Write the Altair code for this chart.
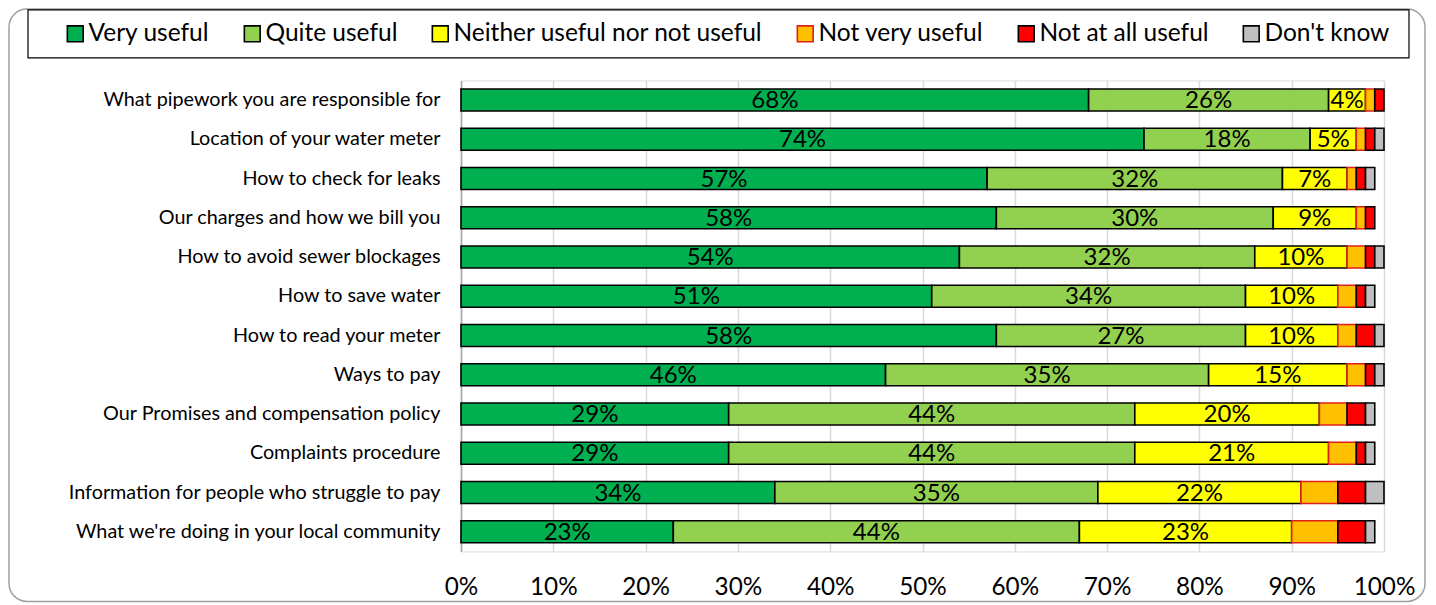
import altair as alt
import pandas as pd

questions = [
    "What pipework you are responsible for",
    "Location of your water meter",
    "How to check for leaks",
    "Our charges and how we bill you",
    "How to avoid sewer blockages",
    "How to save water",
    "How to read your meter",
    "Ways to pay",
    "Our Promises and compensation policy",
    "Complaints procedure",
    "Information for people who struggle to pay",
    "What we're doing in your local community",
]
categories = ["Very useful", "Quite useful", "Neither useful nor not useful",
              "Not very useful", "Not at all useful", "Don't know"]
very_useful = [68, 74, 57, 58, 54, 51, 58, 46, 29, 29, 34, 23]
quite_useful = [26, 18, 32, 30, 32, 34, 27, 35, 44, 44, 35, 44]
neither = [4, 5, 7, 9, 10, 10, 10, 15, 20, 21, 22, 23]
not_very = [1, 1, 1, 1, 2, 2, 2, 2, 3, 3, 4, 5]
not_at_all = [1, 1, 1, 1, 1, 1, 2, 1, 2, 1, 3, 3]
dont_know = [0, 1, 1, 0, 1, 1, 1, 1, 1, 1, 2, 1]

fills = ["#00B050", "#92D050", "#FFFF00", "#FFC000", "#FF0000", "#BFBFBF"]
strokes = ["#000000", "#000000", "#000000", "#E0201B", "#000000", "#000000"]

series = [very_useful, quite_useful, neither, not_very, not_at_all, dont_know]
rows = []
for ci, (cat, vals) in enumerate(zip(categories, series)):
    for q, v in zip(questions, vals):
        if v > 0:
            rows.append({"question": q, "cat": cat, "idx": ci, "value": v})
df = pd.DataFrame(rows)

FONT = "Lato"
W, H = 923, 471


def make_legend():
    return alt.Legend(title=None, orient="none", direction="horizontal",
                      legendX=-398, legendY=-59,
                      labelFontSize=24.5, labelFont=FONT, labelColor="#000",
                      symbolType="square", symbolSize=250,
                      symbolStrokeWidth=1.6, labelOffset=1,
                      columnPadding=30, labelLimit=600)


yenc = alt.Y("question:N", sort=questions, title=None,
             scale=alt.Scale(paddingInner=0.44, paddingOuter=0.22),
             axis=alt.Axis(labelFontSize=19.8, labelColor="#000", labelFont=FONT,
                           ticks=False, labelPadding=21, domainColor="#A6A6A6",
                           domainWidth=1.5, labelLimit=600))

bars = alt.Chart(df).mark_bar(strokeWidth=1.6).encode(
    x=alt.X("value:Q", stack="zero", title=None,
            scale=alt.Scale(domain=[0, 100], nice=False),
            axis=alt.Axis(values=list(range(0, 101, 10)),
                          labelExpr="datum.value + '%'",
                          labelFontSize=24.3, labelColor="#000", labelFont=FONT,
                          labelPadding=24, ticks=False, domain=False,
                          labelFlush=False, labelOverlap=False,
                          grid=True, gridColor="#D9D9D9", gridWidth=1.5)),
    y=yenc,
    color=alt.Color("cat:N", sort=categories,
                    scale=alt.Scale(domain=categories, range=fills),
                    legend=make_legend()),
    stroke=alt.Stroke("cat:N", sort=categories,
                      scale=alt.Scale(domain=categories, range=strokes),
                      legend=make_legend()),
    order=alt.Order("idx:Q"),
)

labels = alt.Chart(df).transform_stack(
    stack="value", groupby=["question"], as_=["v0", "v1"],
    sort=[alt.SortField("idx", order="ascending")]
).transform_calculate(
    mid="(datum.v0 + datum.v1) / 2", txt="datum.value + '%'"
).transform_filter("datum.idx <= 2").mark_text(
    fontSize=24, font=FONT, color="#000", baseline="middle", dy=1
).encode(
    x=alt.X("mid:Q"),
    y=alt.Y("question:N", sort=questions),
    text="txt:N",
)

frame = alt.Chart(pd.DataFrame({"k": [0]})).mark_rect(
    fill=None, stroke="#A0A0A0", strokeWidth=1.5, cornerRadius=18
).encode(x=alt.value(-452), x2=alt.value(964), y=alt.value(-71.5), y2=alt.value(521))

legend_box = alt.Chart(pd.DataFrame({"k": [0]})).mark_rect(
    fill=None, stroke="#000", strokeWidth=1.2
).encode(x=alt.value(-433), x2=alt.value(948), y=alt.value(-70.5), y2=alt.value(-22.5))

chart = alt.layer(frame, legend_box, bars, labels).properties(
    width=W, height=H,
    autosize=alt.AutoSizeParams(type="none"),
    padding={"left": 453, "top": 72.4, "right": 43, "bottom": 52},
).configure_view(stroke=None).configure(background="white")

chart.save("out.html", embed_options={"renderer": "svg", "actions": False})
